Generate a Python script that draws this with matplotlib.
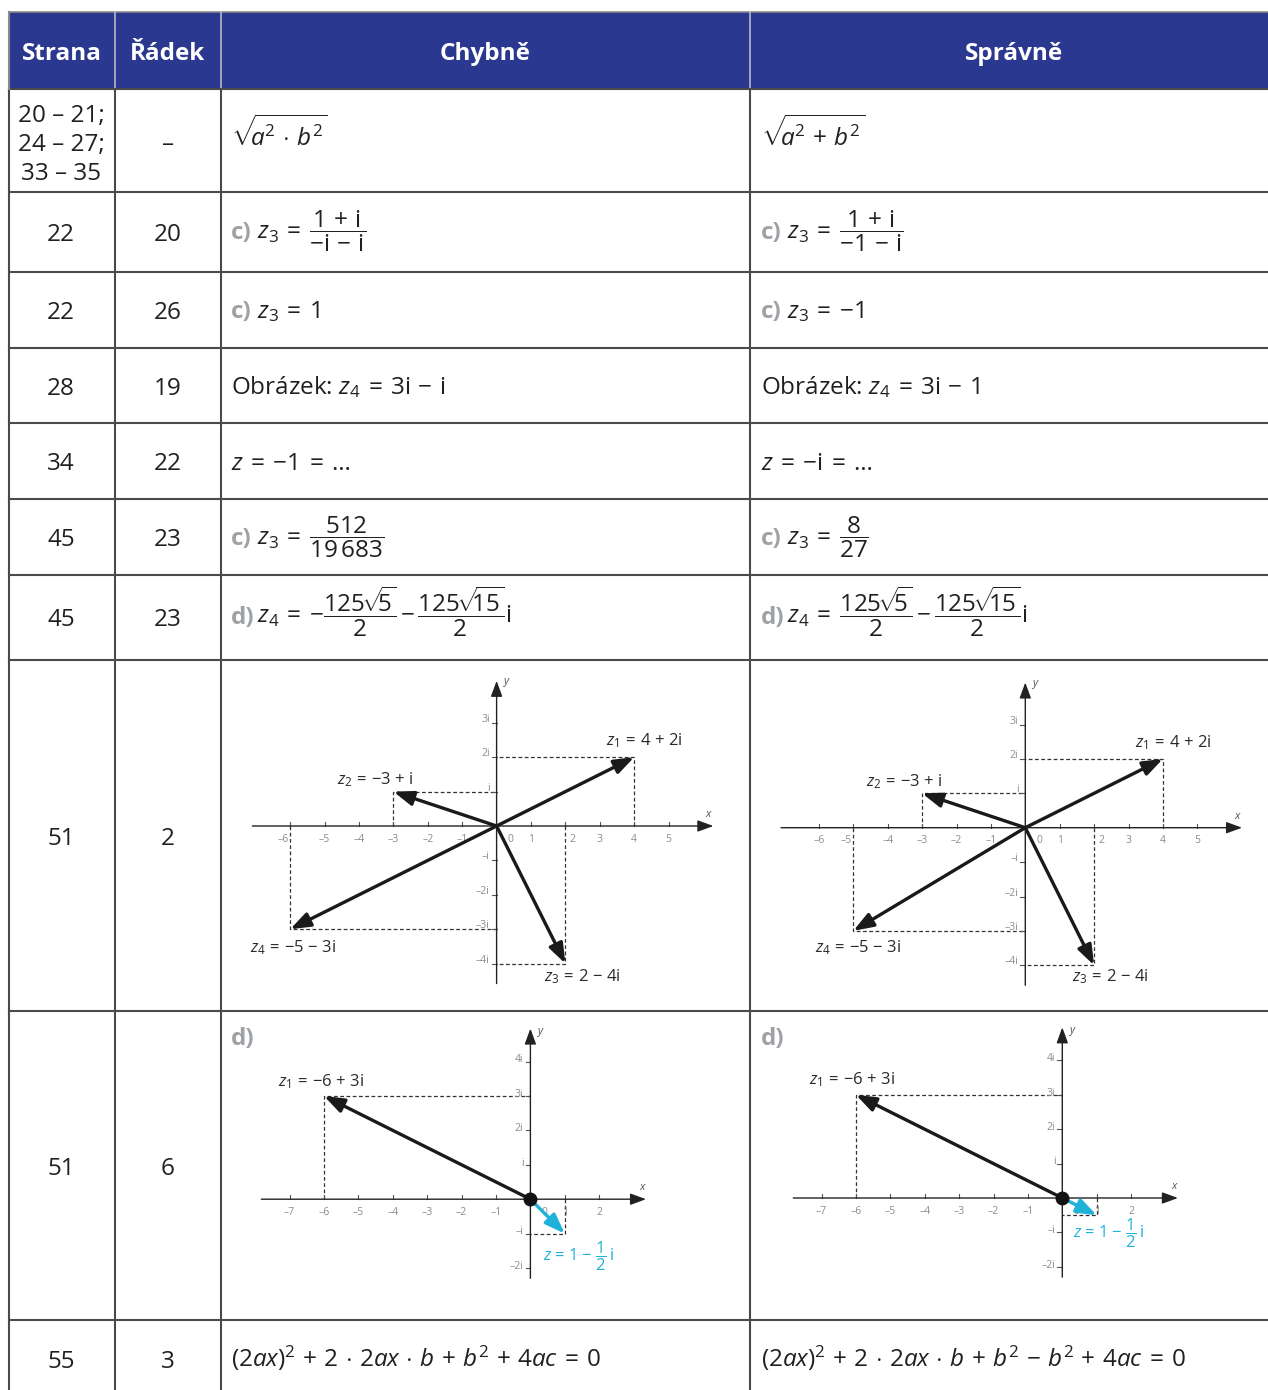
import matplotlib
matplotlib.use('Agg')
import matplotlib.pyplot as plt

plt.rcParams['font.family'] = ['Open Sans', 'DejaVu Sans']
plt.rcParams['mathtext.fontset'] = 'custom'
plt.rcParams['mathtext.rm'] = 'Open Sans'
plt.rcParams['mathtext.it'] = 'Open Sans:italic'
plt.rcParams['mathtext.bf'] = 'Open Sans:bold'
plt.rcParams['mathtext.sf'] = 'Open Sans'

# ---------------- data ----------------
headers = ['Strana', 'Řádek', 'Chybně', 'Správně']
strana = ['20 – 21;\n24 – 27;\n33 – 35', '22', '22', '28', '34', '45', '45', '51', '51', '55']
radek = ['–', '20', '26', '19', '22', '23', '23', '2', '6', '3']
prefixes = ['', 'c)', 'c)', '', '', 'c)', 'd)', '', '', '']
chybne = [
    r'$\sqrt{\!\!a^2 \cdot b^2}$',
    r'$z_3 = \dfrac{1 + \mathrm{i}}{-\mathrm{i} - \mathrm{i}}$',
    r'$z_3 = 1$',
    r'Obrázek: $z_4 = 3\mathrm{i} - \mathrm{i}$',
    r'$z = {-1} = \ldots$',
    r'$z_3 = \dfrac{512}{19\,683}$',
    r'$z_4 = {-}\dfrac{125\!\sqrt{\!\!5}}{2}\,{-}\,\dfrac{125\!\sqrt{\!\!15}}{2}\mathrm{i}$',
    None, None,
    r'$(2ax)^2 + 2 \cdot 2ax \cdot b + b^2 + 4ac = 0$',
]
spravne = [
    r'$\sqrt{\!\!a^2 + b^2}$',
    r'$z_3 = \dfrac{1 + \mathrm{i}}{-1 - \mathrm{i}}$',
    r'$z_3 = {-1}$',
    r'Obrázek: $z_4 = 3\mathrm{i} - 1$',
    r'$z = {-\mathrm{i}} = \ldots$',
    r'$z_3 = \dfrac{8}{27}$',
    r'$z_4 = \dfrac{125\!\sqrt{\!\!5}}{2}\,{-}\,\dfrac{125\!\sqrt{\!\!15}}{2}\mathrm{i}$',
    None, None,
    r'$(2ax)^2 + 2 \cdot 2ax \cdot b + b^2 - b^2 + 4ac = 0$',
]

# complex numbers in the diagrams (row "51 / 2")
vec_labels = [r'$z_1 = 4 + 2\mathrm{i}$', r'$z_2 = {-3} + \mathrm{i}$',
              r'$z_3 = 2 - 4\mathrm{i}$', r'$z_4 = {-5} - 3\mathrm{i}$']
wrong_re = [4, -3, 2, -6]
wrong_im = [2, 1, -4, -3]
right_re = [4, -3, 2, -5]
right_im = [2, 1, -4, -3]

# row "51 / 6"
z1_re, z1_im = -6, 3
z1_label = r'$z_1 = {-6} + 3\mathrm{i}$'
zb_label = r'$z = 1 - \dfrac{1}{2}\,\mathrm{i}$'
zb_wrong = (1, -1)
zb_right = (1, -0.5)


def sp(s, eq=0.2, op=0.15):
    """widen the spacing of '=' and binary operators in a mathtext string"""
    E = r'\hspace{%g}=\hspace{%g}' % (eq, eq)
    s = s.replace(' = ', E)
    for o in ('+', '-', r'\cdot'):
        s = s.replace(' %s ' % o, r'\hspace{%g}%s\hspace{%g}' % (op, o, op))
    return s


# ---------------- layout ----------------
W, H = 1268, 1390
fig = plt.figure(figsize=(W / 100, H / 100), dpi=100)
bg = fig.add_axes([0, 0, 1, 1])
bg.set_xlim(0, W)
bg.set_ylim(H, 0)
bg.axis('off')

BLUE = '#2b388f'
LINE = '#4a4a4a'
TXT = '#231f20'
GRAY = '#9ea2a6'
CYAN = '#1eb2d8'

col_edges = [9, 115, 221, 750, W]
row_edges = [89, 192, 272, 348, 423, 499, 575, 660, 1011, 1320, 1400]
head_top = 12

bg.add_patch(plt.Rectangle((col_edges[0], head_top), W - col_edges[0], row_edges[0] - head_top,
                           facecolor=BLUE, edgecolor='none'))
bg.plot([col_edges[0], W], [head_top, head_top], color='#8a8a8a', lw=1.2)
for x in col_edges[1:-1]:
    bg.plot([x, x], [head_top, row_edges[0]], color='#b8bacb', lw=1.2)
for y in row_edges[:-1]:
    bg.plot([col_edges[0], W], [y, y], color=LINE, lw=1.5)
for x in col_edges[:-1]:
    bg.plot([x, x], [row_edges[0], H], color=LINE, lw=1.5)
bg.plot([col_edges[0], col_edges[0]], [head_top, row_edges[0]], color='#8a8a8a', lw=1.5)

hx = [(col_edges[i] + col_edges[i + 1]) / 2 for i in range(4)]
head_x = hx[:3] + [hx[3] + 5]
for i, h in enumerate(headers):
    bg.text(head_x[i], 54, h, color='white', fontsize=17.5, fontweight='bold',
            ha='center', va='center')

centers = [145, 235, 313, 389, 464, 540, 620, 839, 1169, 1362]
baselines = [146, 239, 318, 394, 470, 545, 624, None, None, 1367]
FS = 17.5
for i in range(len(strana)):
    bg.text(hx[0] - 1, centers[i], strana[i], fontsize=FS, color=TXT, ha='center',
            va='center', linespacing=1.3)
    bg.text(hx[1], centers[i], radek[i], fontsize=FS, color=TXT, ha='center', va='center')
    for x0, content in ((231, chybne[i]), (761, spravne[i])):
        if content is None:
            continue
        xm = x0
        if prefixes[i]:
            bg.text(x0, baselines[i], prefixes[i], fontsize=FS, color=GRAY,
                    fontweight='bold', ha='left', va='baseline')
            xm = x0 + 26
        bg.text(xm, baselines[i], sp(content), fontsize=FS, color=TXT, ha='left', va='baseline')

# "d)" labels of row 51/6
for x0 in (231, 761):
    bg.text(x0, 1039, 'd)', fontsize=FS, color=GRAY, fontweight='bold', ha='left', va='center')


def make_axes(ox, oy, u, xr, yr):
    ax = fig.add_axes([(ox + xr[0] * u) / W, 1 - (oy - yr[0] * u) / H,
                       (xr[1] - xr[0]) * u / W, (yr[1] - yr[0]) * u / H])
    ax.set_xlim(*xr)
    ax.set_ylim(*yr)
    ax.axis('off')
    return ax


def draw_frame(ax, xa, ya, xticks, yticks, xlab_pos, ylab_pos, xshift=None, yshift=0.1):
    xshift = xshift or {}
    arr = dict(arrowstyle='-|>,head_length=0.6,head_width=0.22', color='#222222', lw=1.0,
               shrinkA=0, shrinkB=0, mutation_scale=16)
    ax.annotate('', xy=(xa[1], 0), xytext=(xa[0], 0), arrowprops=arr)
    ax.annotate('', xy=(0, ya[1]), xytext=(0, ya[0]), arrowprops=arr)
    for k in xticks:
        ax.plot([k, k], [0, 0.12], color='#555555', lw=0.8)
        lab = ('–' + str(-k)) if k < 0 else str(k)
        ax.text(k + xshift.get(k, 0), -0.38, lab, fontsize=7.5, color='#8c8c8c',
                ha='center', va='center')
    ax.text(0.4, -0.38, '0', fontsize=7.5, color='#8c8c8c', ha='center', va='center')
    for k in yticks:
        ax.plot([-0.14, 0], [k, k], color='#555555', lw=0.8)
        if k == 1:
            lab = 'i'
        elif k == -1:
            lab = '–i'
        elif k < 0:
            lab = '–' + str(-k) + 'i'
        else:
            lab = str(k) + 'i'
        ax.text(-0.2, k + yshift, lab, fontsize=7.5, color='#8c8c8c', ha='right', va='center')
    ax.text(*xlab_pos, 'x', fontsize=8, color='#555555', style='italic', ha='center', va='center')
    ax.text(*ylab_pos, 'y', fontsize=8, color='#555555', style='italic', ha='center', va='center')


def dashed(ax, xs, ys, color='#333333'):
    ax.plot(xs, ys, color=color, lw=0.9, linestyle=(0, (3, 2)))


def vector(ax, x, y, color='#1a1a1a', lw=2.4):
    ax.annotate('', xy=(x, y), xytext=(0, 0),
                arrowprops=dict(arrowstyle='-|>,head_length=0.6,head_width=0.22', color=color,
                                lw=lw, shrinkA=0, shrinkB=0, mutation_scale=20))


LFS = 12
# ----- row 51/2 diagrams -----
lab_pos_l = [(4.29, 2.49), (-3.53, 1.34), (2.48, -4.39), (-5.93, -3.53)]
lab_pos_r = [(4.31, 2.48), (-3.51, 1.34), (2.47, -4.34), (-4.87, -3.49)]
for (ox, oy, res, ims, lpos, xsh) in (
        (496.6, 826.0, wrong_re, wrong_im, lab_pos_l, {-6: -0.2, 2: 0.2}),
        (1025.3, 827.7, right_re, right_im, lab_pos_r, {-5: -0.2, 2: 0.2})):
    ax = make_axes(ox, oy, 34.4, (-7.8, 7.4), (-5.2, 4.8))
    for x, y in zip(res, ims):
        dashed(ax, [x, x, 0], [0, y, y])
    draw_frame(ax, (-7.1, 6.3), (-4.58, 4.22), [-6, -5, -4, -3, -2, -1, 1, 2, 3, 4, 5],
               [3, 2, 1, -1, -2, -3, -4], (6.16, 0.33), (0.27, 4.19), xshift=xsh)
    for x, y in zip(res, ims):
        vector(ax, x, y)
    for lab, p in zip(vec_labels, lpos):
        ax.text(p[0], p[1], sp(lab, 0.15, 0.1), fontsize=LFS, color='#2a2a2a',
                ha='center', va='center')

# ----- row 51/6 diagrams -----
for (ox, oy, zb, bpos) in ((530.4, 1199.2, zb_wrong, (1.4, -1.67)),
                            (1062.3, 1198.0, zb_right, (1.34, -1.04))):
    ax = make_axes(ox, oy, 34.4, (-8.5, 4.2), (-2.8, 5.3))
    dashed(ax, [z1_re, z1_re, 0], [0, z1_im, z1_im])
    dashed(ax, [zb[0], zb[0], 0], [0, zb[1], zb[1]])
    draw_frame(ax, (-7.82, 3.36), (-2.3, 4.96), [-7, -6, -5, -4, -3, -2, -1, 1, 2],
               [4, 3, 2, 1, -1, -2], (3.25, 0.34), (0.27, 4.87), yshift=0.05)
    vector(ax, z1_re, z1_im)
    vector(ax, zb[0], zb[1], color=CYAN, lw=2.4)
    ax.plot([0], [0], 'o', ms=9, color='#111111', zorder=5)
    ax.text(z1_re - 0.1, z1_im + 0.43, sp(z1_label, 0.15, 0.1), fontsize=LFS, color='#2a2a2a',
            ha='center', va='center')
    ax.text(bpos[0], bpos[1], sp(zb_label, 0.1, 0.05), fontsize=LFS, color=CYAN,
            ha='center', va='center')

fig.savefig('out.png', dpi=100)
